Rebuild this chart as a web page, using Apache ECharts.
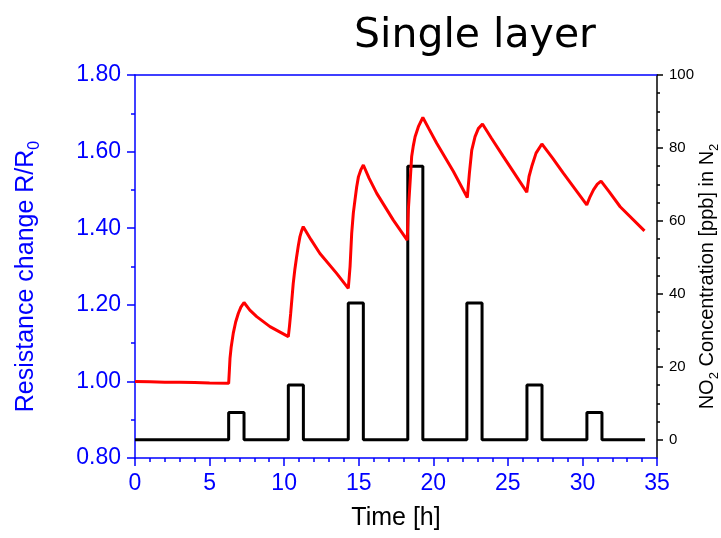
<!DOCTYPE html>
<html>
<head>
<meta charset="utf-8">
<script src="https://cdn.jsdelivr.net/npm/echarts@6/dist/echarts.min.js"></script>
<style>html,body{margin:0;padding:0;background:#fff;}#c{width:721px;height:538px;}</style>
</head>
<body>
<div id="c"></div>
<script>
// Time [h] and resistance change R/R0 (red curve, left axis)
const timeR = [0, 1, 2, 3, 4, 5, 6.28,
  6.33, 6.37, 6.45, 6.59, 6.75, 6.93, 7.10, 7.31,
  7.70, 8.16, 9.05, 10.28,
  10.36, 10.44, 10.52, 10.61, 10.72, 10.84, 10.95, 11.06, 11.17, 11.28,
  11.80, 12.40, 13.52, 14.30,
  14.36, 14.42, 14.53, 14.64, 14.75, 14.86, 14.98, 15.15, 15.31,
  15.70, 16.21, 17.32, 18.25,
  18.33, 18.44, 18.55, 18.66, 18.78, 19.00, 19.30,
  19.70, 20.23, 21.35, 22.28,
  22.42, 22.58, 22.80, 23.02, 23.30,
  23.90, 24.70, 26.27,
  26.42, 26.60, 26.89, 27.28,
  28.00, 28.73, 30.29,
  30.51, 30.74, 31.00, 31.25,
  31.80, 32.53, 34.16];
const resist = [1.000, 0.999, 0.998, 0.998, 0.997, 0.996, 0.995,
  1.030, 1.060, 1.090, 1.126, 1.155, 1.178, 1.194, 1.206,
  1.186, 1.169, 1.143, 1.117,
  1.145, 1.178, 1.215, 1.256, 1.293, 1.326, 1.354, 1.378, 1.393, 1.404,
  1.370, 1.334, 1.282, 1.243,
  1.270, 1.300, 1.387, 1.440, 1.474, 1.507, 1.534, 1.553, 1.565,
  1.530, 1.491, 1.421, 1.369,
  1.450, 1.517, 1.587, 1.615, 1.639, 1.665, 1.689,
  1.660, 1.622, 1.548, 1.480,
  1.543, 1.604, 1.639, 1.660, 1.672,
  1.635, 1.587, 1.494,
  1.535, 1.561, 1.596, 1.620,
  1.583, 1.543, 1.461,
  1.482, 1.500, 1.515, 1.523,
  1.495, 1.456, 1.393];

// NO2 pulses (black curve, right axis)
const pulseStart = [6.28, 10.28, 14.30, 18.29, 22.25, 26.28, 30.30];
const pulseEnd   = [7.31, 11.29, 15.31, 19.30, 23.27, 27.29, 31.31];
const pulseConc  = [7.5, 15, 37.5, 75, 37.5, 15, 7.5];
const concStart = 0, concEnd = 34.2;

// tick labels
const xTicks = [0, 5, 10, 15, 20, 25, 30, 35];
const leftTicks = [0.8, 1.0, 1.2, 1.4, 1.6, 1.8];
const rightTicks = [0, 20, 40, 60, 80, 100];
const rightMinor = [5, 10, 15, 25, 30, 35, 45, 50, 55, 65, 70, 75, 85, 90, 95];

const redData = timeR.map((t, i) => [t, resist[i]]);
const concData = [[concStart, 0]];
pulseStart.forEach((s, i) => {
  concData.push([s, 0], [s, pulseConc[i]], [pulseEnd[i], pulseConc[i]], [pulseEnd[i], 0]);
});
concData.push([concEnd, 0]);

const BLUE = '#0000ff';
const FONT = 'Liberation Sans';
const chart = echarts.init(document.getElementById('c'), null, {renderer: 'canvas'});
chart.setOption({
  animation: false,
  backgroundColor: '#fff',
  title: {
    text: 'Single layer',
    left: 470, top: 11, textAlign: 'center',
    textStyle: {fontFamily: 'DejaVu Sans', fontSize: 41, fontWeight: 'normal', color: '#000'}
  },
  grid: {left: 135, right: 64, top: 75, bottom: 80, containLabel: false, outerBoundsMode: 'none'},
  xAxis: [{
    type: 'value', min: xTicks[0], max: xTicks[xTicks.length - 1], interval: 5,
    position: 'bottom',
    name: 'Time [h]', nameLocation: 'middle', nameGap: 48, nameMoveOverlap: false,
    nameTextStyle: {fontFamily: FONT, fontSize: 25, color: '#000'},
    axisLine: {onZero: false, lineStyle: {color: BLUE, width: 1.5}},
    axisTick: {show: true, length: 8, lineStyle: {color: BLUE, width: 1.5}},
    minorTick: {show: true, splitNumber: 5, length: 4, lineStyle: {color: BLUE, width: 1.5}},
    axisLabel: {fontFamily: FONT, fontSize: 23, color: BLUE, margin: 14},
    splitLine: {show: false}, minorSplitLine: {show: false}
  }, {
    type: 'value', min: 0, max: 35, position: 'top',
    axisLine: {show: true, onZero: false, lineStyle: {color: BLUE, width: 1.5}},
    axisTick: {show: false}, axisLabel: {show: false}, splitLine: {show: false}
  }],
  yAxis: [{
    type: 'value', min: leftTicks[0], max: leftTicks[leftTicks.length - 1], interval: 0.2,
    position: 'left',
    name: '{a|Resistance change R/R}{s|0}', nameLocation: 'middle', nameGap: 96, nameRotate: 90,
    nameMoveOverlap: false,
    nameTextStyle: {
      color: BLUE,
      rich: {
        a: {fontFamily: FONT, fontSize: 25, color: BLUE, verticalAlign: 'bottom', lineHeight: 30},
        s: {fontFamily: FONT, fontSize: 16, color: BLUE, verticalAlign: 'bottom', lineHeight: 22, padding: [0, 20, -4, 0]}
      }
    },
    axisLine: {show: true, onZero: false, lineStyle: {color: BLUE, width: 1.5}},
    axisTick: {show: true, length: 8, lineStyle: {color: BLUE, width: 1.5}},
    minorTick: {show: true, splitNumber: 2, length: 4, lineStyle: {color: BLUE, width: 1.5}},
    axisLabel: {fontFamily: FONT, fontSize: 23, color: BLUE, margin: 14,
      formatter: v => v.toFixed(2)},
    splitLine: {show: false}, minorSplitLine: {show: false}
  }, {
    type: 'value', min: -5, max: 100, position: 'right',
    name: '{a|NO}{s|2}{a| Concentration [ppb] in N}{b|2}', nameLocation: 'middle', nameGap: 36, nameRotate: 90,
    nameMoveOverlap: false,
    nameTextStyle: {
      color: '#000',
      rich: {
        a: {fontFamily: FONT, fontSize: 20, color: '#000', verticalAlign: 'bottom', lineHeight: 24},
        s: {fontFamily: FONT, fontSize: 13, color: '#000', verticalAlign: 'bottom', lineHeight: 18, padding: [0, 0, -4, 0]},
        b: {fontFamily: FONT, fontSize: 13, color: '#000', verticalAlign: 'bottom', lineHeight: 18, padding: [0, 20, -4, 0]}
      }
    },
    axisLine: {show: true, onZero: false, lineStyle: {color: '#000', width: 1.5}},
    axisTick: {show: true, length: 6, customValues: rightTicks, lineStyle: {color: '#000', width: 1.5}},
    axisLabel: {fontFamily: FONT, fontSize: 15, color: '#000', margin: 12, customValues: rightTicks},
    splitLine: {show: false}
  }, {
    type: 'value', min: -5, max: 100, position: 'right',
    axisLine: {show: false, onZero: false},
    axisTick: {show: true, length: 3, customValues: rightMinor, lineStyle: {color: '#000', width: 1.5}},
    axisLabel: {show: false},
    splitLine: {show: false}
  }],
  series: [{
    type: 'line', xAxisIndex: 0, yAxisIndex: 1, data: concData,
    showSymbol: false, symbol: 'none',
    lineStyle: {color: '#000', width: 3}, z: 2
  }, {
    type: 'line', xAxisIndex: 0, yAxisIndex: 0, data: redData,
    showSymbol: false, symbol: 'none',
    lineStyle: {color: '#ff0000', width: 3}, z: 3
  }]
});
</script>
</body>
</html>
